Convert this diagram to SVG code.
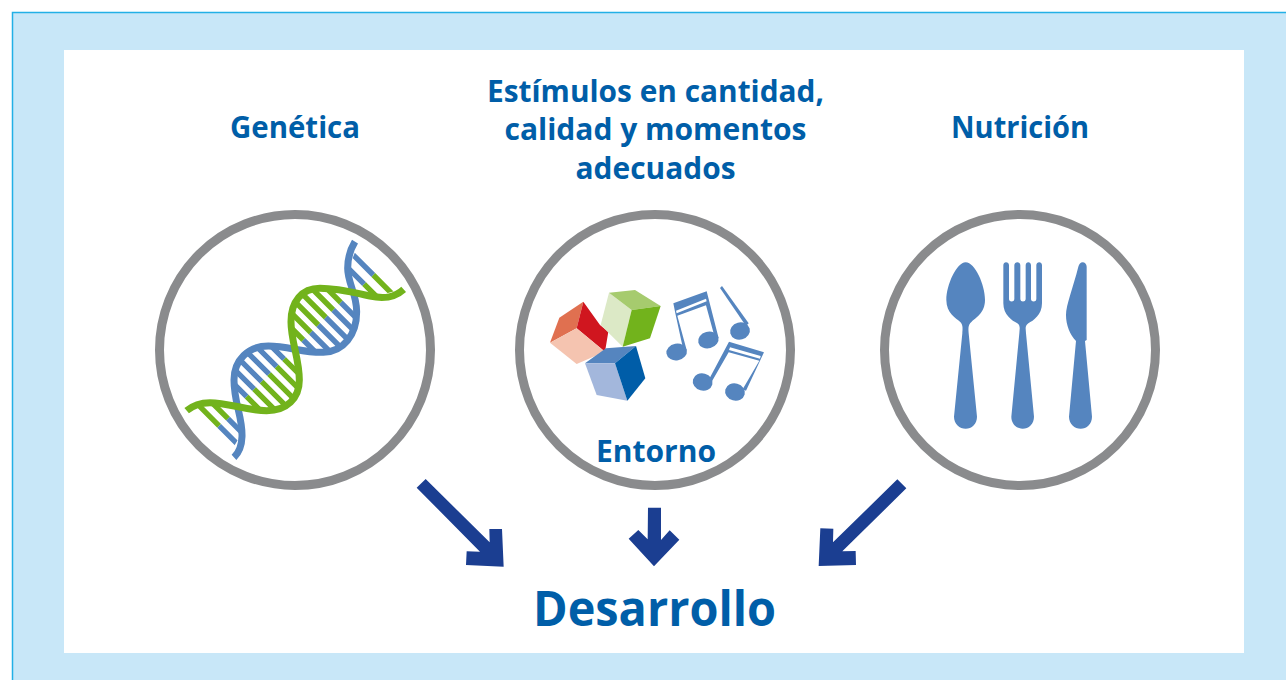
<svg xmlns="http://www.w3.org/2000/svg" width="1286" height="680" viewBox="0 0 1286 680">
<style>
.t{font-family:"Open Sans","Noto Sans","Liberation Sans",sans-serif;font-weight:700;fill:#005ea8;text-anchor:middle}
.l{font-size:30px}
.ring{fill:#fff;stroke:#8a8b8d;stroke-width:9}
.strand{fill:none;stroke-width:21}
.b{stroke:#5585bf}.g{stroke:#72b31c}
.rung{fill:none;stroke-width:16}
.fb{fill:#5585bf}
.arrow{fill:#1b3e91}
</style>
<defs>
<clipPath id="lobes">
<path d="M572 218C540 208 510 205 480 205C425 205 393 245 393 305C393 340 401 365 408 385C430 392 460 397 490 397C550 395 590 345 590 275C590 250 580 235 572 218Z"/>
<path d="M408 385C413 415 418 445 418 480C418 535 380 572 320 572C290 572 262 565 235 560C225 530 222 505 222 480C222 420 265 378 325 378C355 378 380 382 408 385Z"/>
<path d="M590 85L715 210L640 232L575 220L563 150Z"/>
<path d="M215 690L90 565L150 548L235 560L246 640Z"/>
</clipPath>
</defs>
<rect width="1286" height="680" fill="#fff"/>
<rect x="12" y="12" width="1274" height="668" fill="#c8e7f8"/>
<path d="M12.500 680V12.500H1286" fill="none" stroke="#22b0e6" stroke-width="1.500"/>
<rect x="64" y="50" width="1180" height="603" fill="#fff"/>
<g id="genetica">
<text class="t l" x="295" y="138" textLength="130" lengthAdjust="spacingAndGlyphs">Genética</text>
<circle class="ring" cx="295" cy="350" r="135.500"/>
<g transform="translate(160 220) scale(.33333)">
<g clip-path="url(#lobes)">
<path class="rung g" d="M397.500 102.500L542.500 247.500M375 125L520 270M352.500 147.500L497.500 292.500M330 170L475 315M307.500 192.500L452.500 337.500M285 215L430 360"/>
<path class="rung b" d="M542.500 247.500L647.500 352.500M520 270L625 375M497.500 292.500L602.500 397.500M475 315L580 420M452.500 337.500L557.500 442.500M430 360L535 465"/>
<path class="rung b" d="M227.500 272.500L372.500 417.500M205 295L350 440M182.500 317.500L327.500 462.500M160 340L305 485M137.500 362.500L282.500 507.500M115 385L260 530"/>
<path class="rung g" d="M372.500 417.500L477.500 522.500M350 440L455 545M327.500 462.500L432.500 567.500M305 485L410 590M282.500 507.500L387.500 612.500M260 530L365 635"/>
<path class="rung b" d="M565 90L640 165M560 140L612.500 192.500"/>
<path class="rung g" d="M640 165L715 240M612.500 192.500L660 240"/>
<path class="rung g" d="M105 545L177.500 617.500M154 546L204 596"/>
<path class="rung b" d="M177.500 617.500L255 695M204 596L254 646"/>
</g>
<path class="strand b" d="M585 65C570 90 563 115 563 145C563 190 590 220 590 275C590 345 550 395 490 397C430 399 385 378 325 378C265 378 222 420 222 480C222 550 248 590 246 650C245 680 235 700 222 712"/>
<path class="strand g" d="M731 208C705 232 675 238 630 228C570 215 530 205 480 205C425 205 393 245 393 305C393 365 418 415 418 480C418 535 380 572 320 572C260 572 205 548 150 548C120 548 100 555 80 572"/>
</g>
</g>
<g id="estimulos">
<text class="t l" x="655.500" y="102" textLength="337" lengthAdjust="spacingAndGlyphs">Estímulos en cantidad,</text>
<text class="t l" x="655.500" y="140" textLength="302" lengthAdjust="spacingAndGlyphs">calidad y momentos</text>
<text class="t l" x="655.500" y="179" textLength="160" lengthAdjust="spacingAndGlyphs">adecuados</text>
<circle class="ring" cx="655" cy="350" r="135.500"/>
<g transform="translate(530 270) scale(.33333)">
<path fill="#e07050" d="M160 95L88 143L60 218L140 175Z"/>
<path fill="#d0161f" d="M160 95L140 175L225 245L235 185L210 165Z"/>
<path fill="#f5c4b0" d="M60 218L140 282L225 245L140 175Z"/>
<path fill="#dce9c6" d="M237 68L212 165L278 230L305 120Z"/>
<path fill="#a6cb6e" d="M237 68L315 60L392 108L305 120Z"/>
<path fill="#72b31c" d="M305 120L392 108L360 205L278 230Z"/>
<path fill="#5585bf" d="M165 280L228 235L318 228L255 280Z"/>
<path fill="#a3b7dc" d="M165 280L255 280L292 392L200 375Z"/>
<path fill="#005da8" d="M255 280L318 228L346 325L292 392Z"/>
<g class="fb">
<path d="M430 100L530 64L566 205L555 205L528 106L442 137L470 240L460 240L436 130Z"/>
<path d="M438 122L528 86L530 94L440 130Z" fill="#fff"/>
<ellipse cx="440" cy="246" rx="31" ry="25" transform="rotate(-10 440 246)"/>
<ellipse cx="535" cy="210" rx="31" ry="25" transform="rotate(-15 535 210)"/>
<path d="M576 48L656 160L648 168L570 54Z"/>
<ellipse cx="630" cy="183" rx="30" ry="26" transform="rotate(-15 630 183)"/>
<path d="M597 215L702 247L648 362L638 358L688 272L596 247L545 335L536 330Z"/>
<path d="M600 232L692 258L690 266L597 240Z" fill="#fff"/>
<ellipse cx="518" cy="336" rx="30" ry="26" transform="rotate(15 518 336)"/>
<ellipse cx="615" cy="366" rx="30" ry="26" transform="rotate(15 615 366)"/>
</g>
</g>
<text class="t" x="656" y="462" font-size="30" textLength="120" lengthAdjust="spacingAndGlyphs">Entorno</text>
</g>
<g id="nutricion">
<text class="t l" x="1020" y="138" textLength="138" lengthAdjust="spacingAndGlyphs">Nutrición</text>
<circle class="ring" cx="1020" cy="350" r="135.500"/>
<g class="fb" transform="translate(930 250) scale(.33333)">
<path d="M107 37C135 37 165 105 165 150C165 190 135 205 125 215C112 225 116 240 116 250L141 500C141 522 125 536 107 536C89 536 72 522 72 500L97 250C97 240 101 225 90 215C78 205 49 190 49 150C49 105 80 37 107 37Z"/>
<path d="M228 37C233 37 237 41 237 46V147C237 157 253 157 253 147V46C253 34 271 34 271 46V147C271 157 287 157 287 147V46C287 34 303 34 303 46V147C303 157 319 157 319 147V46C319 34 336 34 336 46V160C336 195 310 212 295 220C283 228 288 240 288 250L312 500C312 522 296 536 278 536C260 536 244 522 244 500L268 250C268 240 273 228 262 220C246 212 220 195 220 160V46C220 41 224 37 228 37Z"/>
<path d="M458 37C464 37 470 43 470 50V270L465 273L486 500C486 522 470 536 452 536C434 536 417 522 417 500L438 273C420 255 408 225 408 195C408 165 430 110 445 50C447 43 452 37 458 37Z"/>
</g>
</g>
<g id="desarrollo">
<text class="t" x="654.500" y="626" font-size="49" textLength="243" lengthAdjust="spacingAndGlyphs">Desarrollo</text>
</g>
<g id="connectors" transform="translate(400 470) scale(.33333)">
<path class="arrow" d="M77 27L269 217L268 177L306 177L311 290L198 285L200 244L240 245L50 53Z"/>
<path class="arrow" d="M744 113H783V210L809 181L838 209L762 289L686 206L715 180L743 208Z"/>
<path class="arrow" d="M1492 28L1519 55L1327 244L1367 243L1368 285L1256 288L1261 175L1300 176L1299 217Z"/>
</g>
</svg>
